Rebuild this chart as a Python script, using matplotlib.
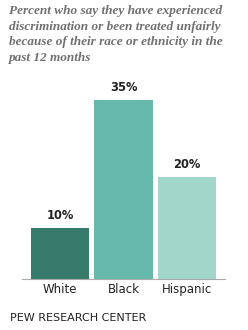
import matplotlib.pyplot as plt

groups = ["White", "Black", "Hispanic"]
values = [10, 35, 20]
labels = ["10%", "35%", "20%"]
colors = ["#357a6b", "#66b9ab", "#a3d6ca"]

fig = plt.figure(figsize=(2.48, 3.30), dpi=100)

# axes placed so baseline sits at y~279px, bars span x 28..218
ax = fig.add_axes([22 / 248, 1 - 279 / 330, 203 / 248, 200 / 330])
ax.bar(range(3), values, width=0.92, color=colors)
ax.set_xlim(-0.6, 2.6)
ax.set_ylim(0, 39.2)
for i, v in enumerate(values):
    ax.text(i, v + 1.2, labels[i], ha="center", va="bottom",
            fontsize=8.3, fontweight="bold", color="#222222")

for s in ["top", "right", "left"]:
    ax.spines[s].set_visible(False)
ax.spines["bottom"].set_color("#aaaaaa")
ax.spines["bottom"].set_linewidth(0.8)
ax.set_yticks([])
ax.set_xticks(range(3))
ax.set_xticklabels(groups, fontsize=8.5, color="#222222")
ax.tick_params(axis="x", length=0, pad=3)

title = ("Percent who say they have experienced\n"
         "discrimination or been treated unfairly\n"
         "because of their race or ethnicity in the\n"
         "past 12 months")
fig.text(9 / 248, 1 - 5 / 330, title, ha="left", va="top",
         fontsize=9.5, fontstyle="italic", fontweight="bold",
         family="Liberation Serif", color="#707070", linespacing=1.4)

fig.text(10 / 248, 1 - 318 / 330, "PEW RESEARCH CENTER", ha="left", va="center",
         fontsize=8, color="#222222")

fig.savefig("out.png", dpi=100)
